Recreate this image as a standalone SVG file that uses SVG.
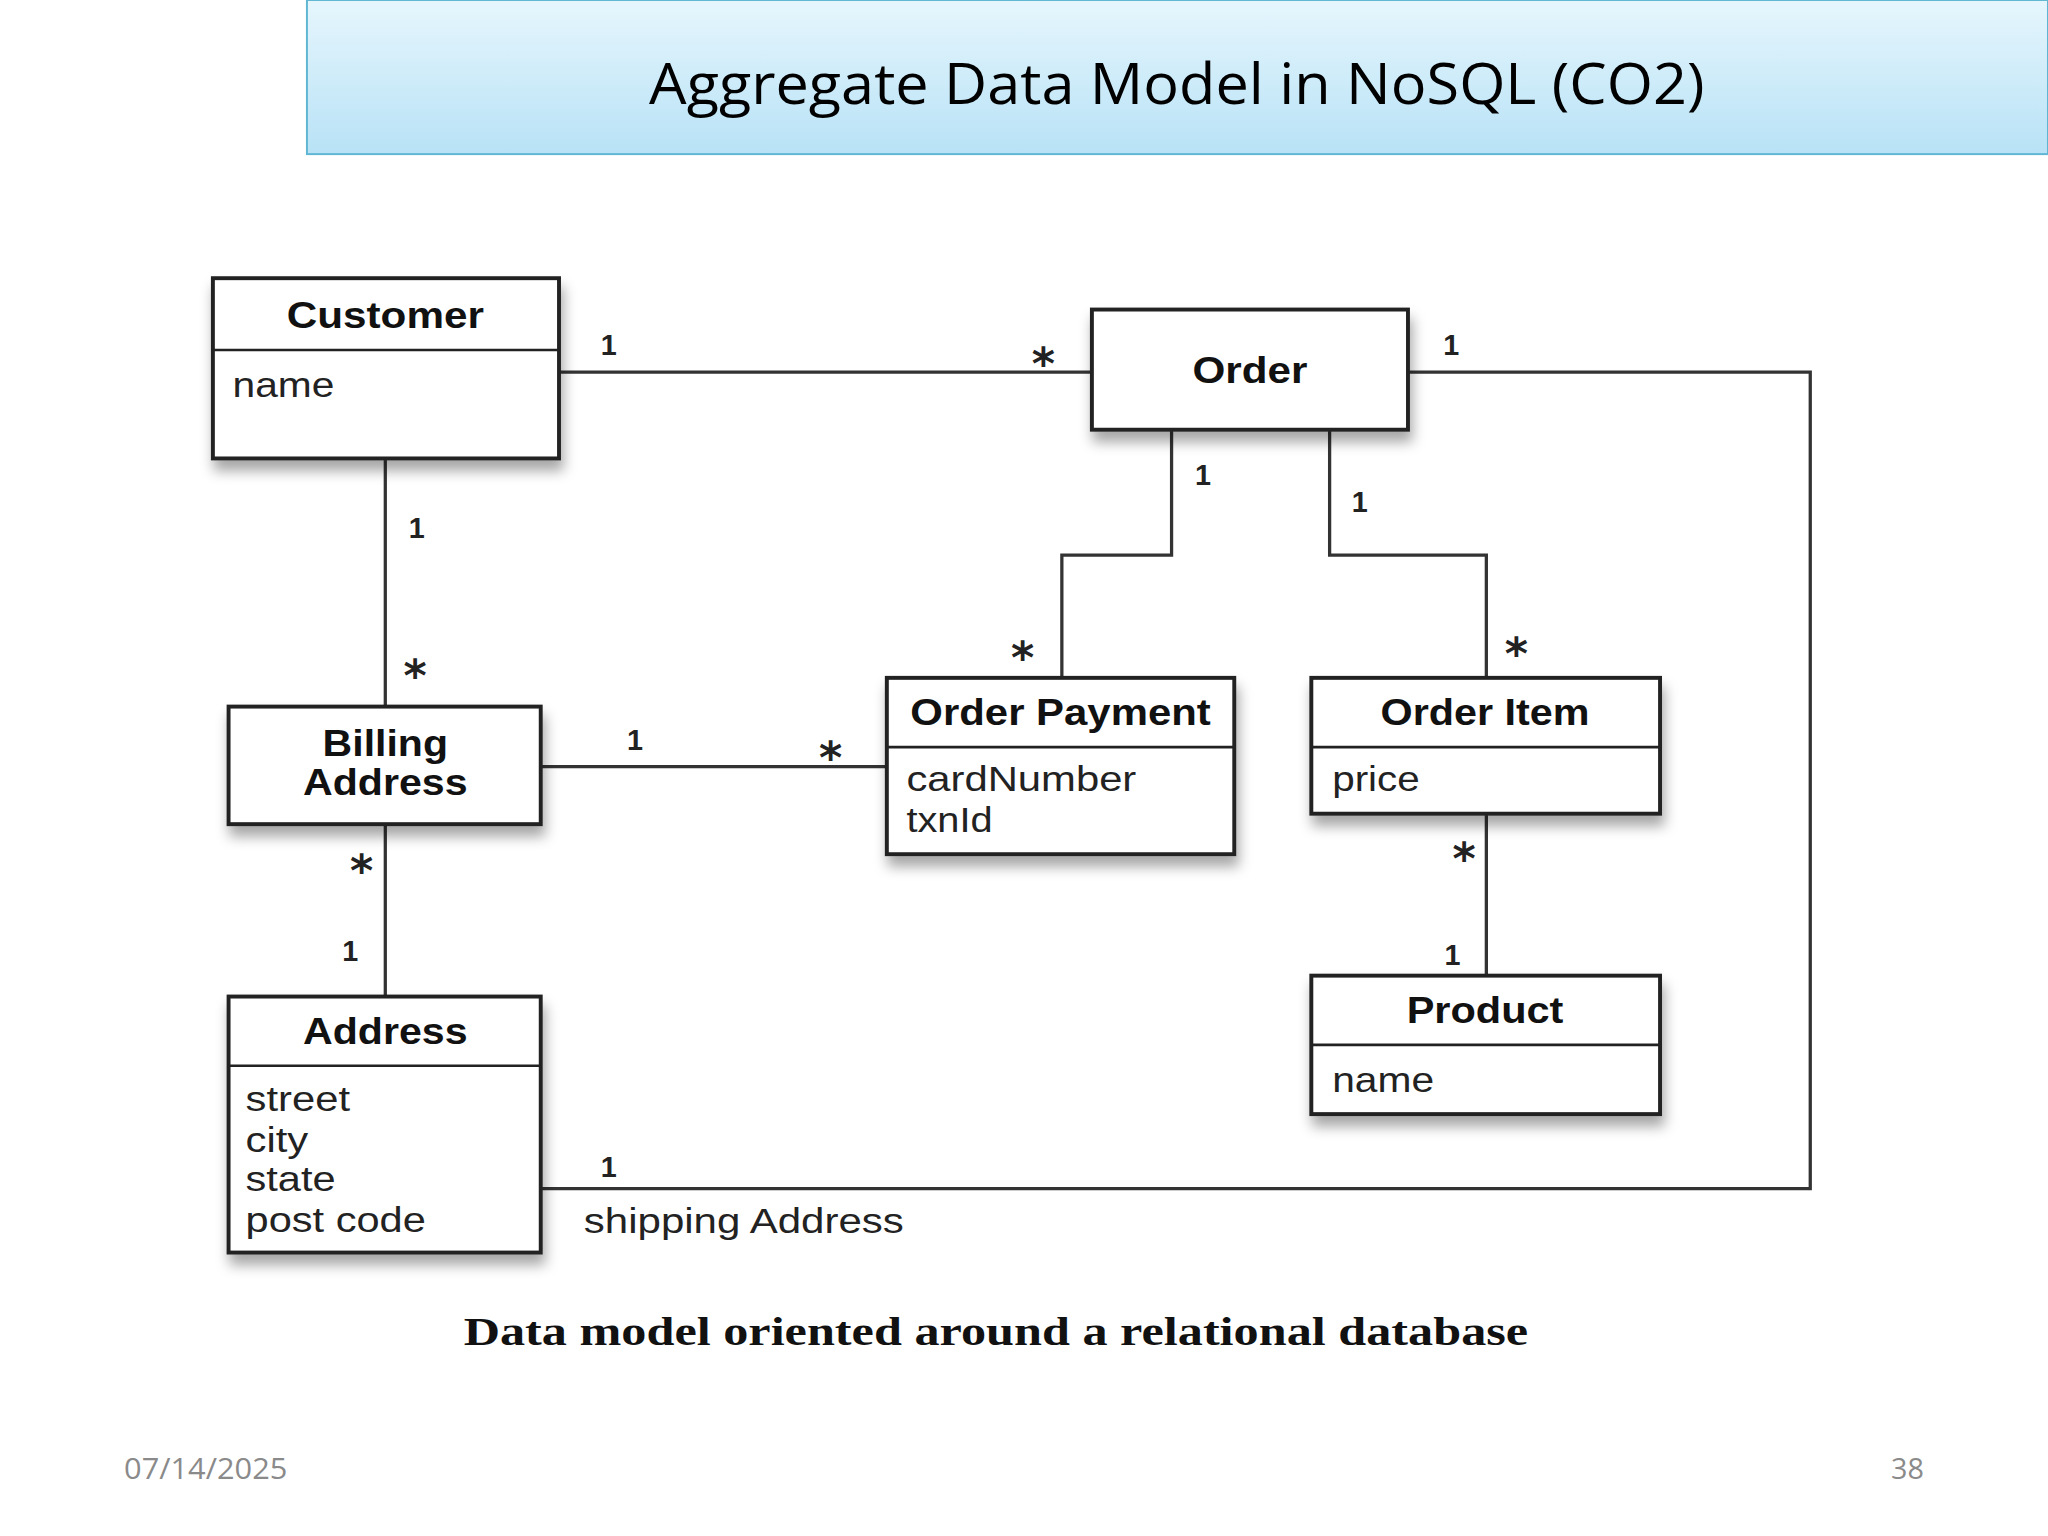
<svg xmlns="http://www.w3.org/2000/svg" width="2048" height="1536" viewBox="0 0 2048 1536">
<style>
.box{fill:#fff;stroke:#222;stroke-width:3;filter:url(#sh)}
.sep{stroke:#222;stroke-width:2}
.ln{fill:none;stroke:#333;stroke-width:2.5}
.h{font-family:"Liberation Sans",Arial,sans-serif;font-weight:bold;font-size:28px;fill:#111;text-anchor:middle}
.a{font-family:"Liberation Sans",Arial,sans-serif;font-size:27px;fill:#222}
.m{font-family:"Liberation Sans",Arial,sans-serif;font-size:22px;fill:#222;font-weight:bold}
.s{font-family:"DejaVu Sans",sans-serif;font-size:34px;fill:#222;font-weight:bold}
</style>
<defs>
<linearGradient id="tg" x1="0" y1="0" x2="0" y2="1"><stop offset="0" stop-color="#e6f6fd"/><stop offset="1" stop-color="#b8e2f6"/></linearGradient>
<filter id="sh" x="-10%" y="-10%" width="130%" height="140%"><feDropShadow dx="2" dy="8" stdDeviation="5" flood-color="#000" flood-opacity="0.35"/></filter>
</defs>
<rect width="2048" height="1536" fill="#fff"/>
<g transform="scale(1.3061)">
<g id="title"><rect x="235" y="0" width="1333" height="118" fill="url(#tg)" stroke="#5fb6d3" stroke-width="1.5"/>
<text x="497" y="80" textLength="808" lengthAdjust="spacingAndGlyphs" font-family="Open Sans,'Liberation Sans',sans-serif" font-size="44" fill="#000">Aggregate Data Model in NoSQL (CO2)</text></g>
<g id="connectors">
<path class="ln" d="M428 285H836"/>
<path class="ln" d="M1078 285H1386V910H414"/>
<path class="ln" d="M295 351V541"/>
<path class="ln" d="M414 587H679"/>
<path class="ln" d="M295 631V763"/>
<path class="ln" d="M897 329V425H813V519"/>
<path class="ln" d="M1018 329V425H1138V519"/>
<path class="ln" d="M1138 623V747"/>
<text class="m" x="460" y="272">1</text><text class="s" x="790" y="290">*</text>
<text class="m" x="1105" y="272">1</text><text class="m" x="460" y="901">1</text>
<text class="a" x="447" y="944" textLength="245" lengthAdjust="spacingAndGlyphs">shipping Address</text>
<text class="m" x="313" y="412">1</text><text class="s" x="309" y="529">*</text>
<text class="m" x="480" y="574">1</text><text class="s" x="627" y="592">*</text>
<text class="s" x="268" y="678">*</text><text class="m" x="262" y="736">1</text>
<text class="m" x="915" y="371">1</text><text class="s" x="774" y="515">*</text>
<text class="m" x="1035" y="392">1</text><text class="s" x="1152" y="512">*</text>
<text class="s" x="1112" y="669">*</text><text class="m" x="1106" y="739">1</text>
</g>
<g id="customer"><rect class="box" x="163" y="213" width="265" height="138"/><line class="sep" x1="163" y1="268" x2="428" y2="268"/>
<text class="h" x="295" y="251" textLength="151" lengthAdjust="spacingAndGlyphs">Customer</text><text class="a" x="178" y="304" textLength="78" lengthAdjust="spacingAndGlyphs">name</text></g>
<g id="order"><rect class="box" x="836" y="237" width="242" height="92"/><text class="h" x="957" y="293" textLength="88" lengthAdjust="spacingAndGlyphs">Order</text></g>
<g id="billing"><rect class="box" x="175" y="541" width="239" height="90"/><text class="h" x="295" y="579" textLength="96" lengthAdjust="spacingAndGlyphs">Billing</text><text class="h" x="295" y="609" textLength="126" lengthAdjust="spacingAndGlyphs">Address</text></g>
<g id="payment"><rect class="box" x="679" y="519" width="266" height="135"/><line class="sep" x1="679" y1="572" x2="945" y2="572"/>
<text class="h" x="812" y="555" textLength="230" lengthAdjust="spacingAndGlyphs">Order Payment</text><text class="a" x="694" y="606" textLength="176" lengthAdjust="spacingAndGlyphs">cardNumber</text><text class="a" x="694" y="637" textLength="66" lengthAdjust="spacingAndGlyphs">txnId</text></g>
<g id="orderitem"><rect class="box" x="1004" y="519" width="267" height="104"/><line class="sep" x1="1004" y1="572" x2="1271" y2="572"/>
<text class="h" x="1137" y="555" textLength="160" lengthAdjust="spacingAndGlyphs">Order Item</text><text class="a" x="1020" y="606" textLength="67" lengthAdjust="spacingAndGlyphs">price</text></g>
<g id="product"><rect class="box" x="1004" y="747" width="267" height="106"/><line class="sep" x1="1004" y1="800" x2="1271" y2="800"/>
<text class="h" x="1137" y="783" textLength="120" lengthAdjust="spacingAndGlyphs">Product</text><text class="a" x="1020" y="836" textLength="78" lengthAdjust="spacingAndGlyphs">name</text></g>
<g id="address"><rect class="box" x="175" y="763" width="239" height="196"/><line class="sep" x1="175" y1="816" x2="414" y2="816"/>
<text class="h" x="295" y="799" textLength="126" lengthAdjust="spacingAndGlyphs">Address</text><text class="a" x="188" y="851" textLength="80" lengthAdjust="spacingAndGlyphs">street</text><text class="a" x="188" y="882" textLength="48" lengthAdjust="spacingAndGlyphs">city</text><text class="a" x="188" y="912" textLength="69" lengthAdjust="spacingAndGlyphs">state</text><text class="a" x="188" y="943" textLength="138" lengthAdjust="spacingAndGlyphs">post code</text></g>
<text x="355" y="1030" textLength="815" lengthAdjust="spacingAndGlyphs" font-family="'Liberation Serif',serif" font-weight="bold" font-size="31" fill="#111">Data model oriented around a relational database</text>
<text x="95" y="1132" textLength="125" lengthAdjust="spacingAndGlyphs" font-family="'Open Sans','Liberation Sans',sans-serif" font-size="22" fill="#8a8a8a">07/14/2025</text>
<text x="1473" y="1132" font-family="'Open Sans','Liberation Sans',sans-serif" font-size="22" fill="#8a8a8a" text-anchor="end">38</text>
</g>
</svg>
